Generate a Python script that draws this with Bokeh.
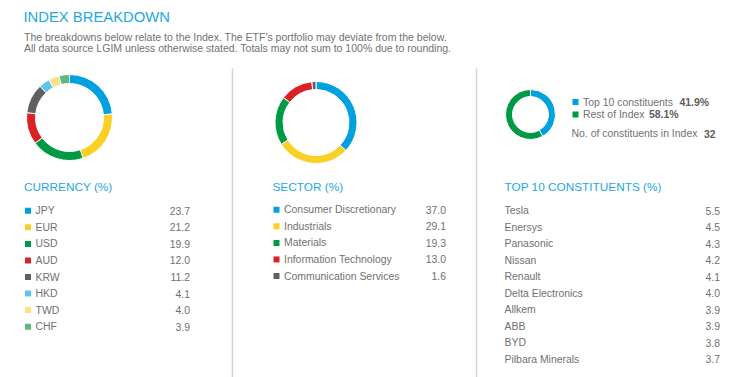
import numpy as np
from bokeh.plotting import figure
from bokeh.models import Range1d, ColumnDataSource
from bokeh.core.properties import value
from bokeh.embed import file_html
from bokeh.resources import INLINE

# ---------------- data ----------------
currency_labels = ["JPY", "EUR", "USD", "AUD", "KRW", "HKD", "TWD", "CHF"]
currency_values = [23.7, 21.2, 19.9, 12.0, 11.2, 4.1, 4.0, 3.9]
currency_colors = ["#00a1de", "#fbd024", "#009a44", "#da2128", "#5f6062", "#62c3ec", "#fde083", "#5fb97f"]

sector_labels = ["Consumer Discretionary", "Industrials", "Materials", "Information Technology", "Communication Services"]
sector_values = [37.0, 29.1, 19.3, 13.0, 1.6]
sector_colors = ["#00a1de", "#fbd024", "#009a44", "#da2128", "#5f6062"]

top10_labels = ["Tesla", "Enersys", "Panasonic", "Nissan", "Renault", "Delta Electronics", "Allkem", "ABB", "BYD", "Pilbara Minerals"]
top10_values = [5.5, 4.5, 4.3, 4.2, 4.1, 4.0, 3.9, 3.9, 3.8, 3.7]

split_labels = ["Top 10 constituents", "Rest of Index"]
split_values = [41.9, 58.1]
split_colors = ["#00a1de", "#009a44"]
n_constituents = 32

W, H = 747, 377
FONT = "Liberation Sans"
BLUE = "#1ea7e1"
GREY = "#707173"
BODY = "10.45px"

p = figure(width=W, height=H, output_backend="svg", toolbar_location=None,
           x_range=Range1d(0, W), y_range=Range1d(0, H), min_border=0)
p.axis.visible = False
p.grid.visible = False
p.outline_line_color = None
p.background_fill_color = "white"
p.border_fill_color = "white"


def Y(py):
    return H - py


def txt(x, y, s, size, color, align="left", style="normal"):
    p.text(x=[x], y=[Y(y)], text=[s], text_font=value(FONT), text_font_size=value(size),
           text_color=color, text_align=align, text_baseline="middle", text_font_style=style)


def donut(cx, cy, r_out, r_in, vals, cols):
    v = np.array(vals, dtype=float)
    frac = v / v.sum()
    ends = np.cumsum(frac)
    starts = ends - frac
    src = ColumnDataSource(dict(
        x=[cx] * len(v), y=[Y(cy)] * len(v),
        start=np.pi / 2 - starts * 2 * np.pi,
        end=np.pi / 2 - ends * 2 * np.pi,
        color=cols))
    p.annular_wedge(x="x", y="y", inner_radius=r_in, outer_radius=r_out,
                    start_angle="start", end_angle="end", direction="clock",
                    fill_color="color", line_color="white", line_width=1, source=src)


# ---------------- header ----------------
txt(23, 16, "INDEX BREAKDOWN", "14.8px", BLUE)
txt(23.5, 36, "The breakdowns below relate to the Index. The ETF's portfolio may deviate from the below.", "10.5px", GREY)
txt(23.5, 47.5, "All data source LGIM unless otherwise stated. Totals may not sum to 100% due to rounding.", "10.5px", GREY)

# separators
p.segment(x0=[232, 476], y0=[Y(68), Y(68)], x1=[232, 476], y1=[Y(377), Y(377)],
          line_color="#d5d5d5", line_width=1.5)

# ---------------- donuts ----------------
donut(69, 117, 43, 34, currency_values, currency_colors)
donut(315.5, 122, 41, 33, sector_values, sector_colors)
donut(530, 114, 25, 18, split_values, split_colors)

# split legend
for i, (lab, val, col) in enumerate(zip(split_labels, split_values, split_colors)):
    yy = 101.5 + i * 12.5
    p.rect(x=[575], y=[Y(yy)], width=6, height=6, fill_color=col, line_color=None)
    txt(582.5, yy, lab, BODY, GREY)
bold_x = [679, 648.5]
for i, val in enumerate(split_values):
    txt(bold_x[i], 101.5 + i * 12.5, f"{val:.1f}%", BODY, "#5d5e60", style="bold")
txt(571, 133, "No. of constituents in Index", BODY, GREY)
txt(703.5, 133, f"{n_constituents}", BODY, "#5d5e60", style="bold")

# ---------------- section headers ----------------
txt(23.5, 186, "CURRENCY (%)", "11.8px", BLUE)
txt(272, 186, "SECTOR (%)", "11.8px", BLUE)
txt(504, 186, "TOP 10 CONSTITUENTS (%)", "11.8px", BLUE)

STEP = 16.55
# currency list
for i, (lab, val, col) in enumerate(zip(currency_labels, currency_values, currency_colors)):
    yy = 210.3 + i * STEP
    p.rect(x=[27.5], y=[Y(yy)], width=6, height=6, fill_color=col, line_color=None)
    txt(35, yy, lab, BODY, GREY)
    txt(189.5, yy, f"{val:.1f}", BODY, GREY, align="right")

# sector list
for i, (lab, val, col) in enumerate(zip(sector_labels, sector_values, sector_colors)):
    yy = 209.3 + i * STEP
    p.rect(x=[276], y=[Y(yy)], width=6, height=6, fill_color=col, line_color=None)
    txt(283.5, yy, lab, BODY, GREY)
    txt(445.5, yy, f"{val:.1f}", BODY, GREY, align="right")

# top 10 list
for i, (lab, val) in enumerate(zip(top10_labels, top10_values)):
    yy = 210 + i * STEP
    txt(504, yy, lab, BODY, GREY)
    txt(719.5, yy, f"{val:.1f}", BODY, GREY, align="right")

open("out.html", "w").write(file_html(p, INLINE))
